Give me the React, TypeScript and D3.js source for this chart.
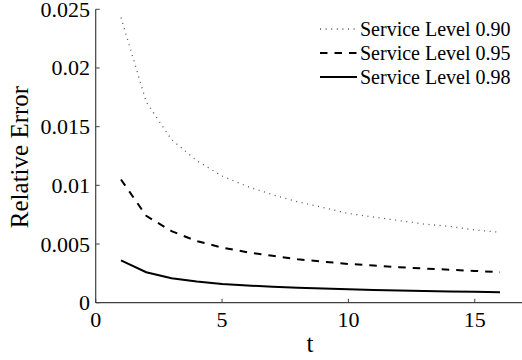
import React, { useEffect, useRef } from 'react';
import * as d3 from 'd3';

const tValues = [1, 2, 3, 4, 5, 6, 7, 8, 9, 10, 11, 12, 13, 14, 15, 16];
const level90 = [0.0243, 0.0171, 0.0139, 0.0121, 0.0108, 0.0099, 0.0092, 0.0086, 0.0081, 0.0076, 0.0073, 0.0070, 0.0067, 0.0065, 0.0062, 0.0060];
const level95 = [0.0105, 0.0074, 0.0061, 0.00525, 0.0047, 0.0043, 0.0040, 0.0037, 0.0035, 0.0033, 0.00317, 0.00303, 0.00291, 0.00281, 0.00271, 0.0026];
const level98 = [0.0036, 0.0026, 0.00208, 0.0018, 0.0016, 0.00147, 0.00136, 0.00127, 0.0012, 0.00114, 0.00108, 0.00104, 0.001, 0.00096, 0.00093, 0.0009];
const seriesNames = ['Service Level 0.90', 'Service Level 0.95', 'Service Level 0.98'];
const xTicks = [0, 5, 10, 15];
const yTicks = [0, 0.005, 0.01, 0.015, 0.02, 0.025];
const yTickLabels = ['0', '0.005', '0.01', '0.015', '0.02', '0.025'];

const font = '"Liberation Serif", "Times New Roman", serif';

const App = () => {
  const svgRef = useRef<SVGSVGElement>(null);

  useEffect(() => {
    const width = 522;
    const height = 360;
    const left = 95.7;
    const bottom = 302.7;
    const top = 9.3;

    const svg = d3.select(svgRef.current);
    svg.selectAll('*').remove();
    svg.attr('width', width).attr('height', height);

    const x = d3.scaleLinear().domain([0, 17]).range([left, left + 17 * 25.27]);
    const y = d3.scaleLinear().domain([0, 0.025]).range([bottom, top]);

    // axes: only left and bottom, ticks pointing inward
    const axisColor = '#404040';
    svg.append('line')
      .attr('x1', left).attr('x2', width)
      .attr('y1', bottom).attr('y2', bottom)
      .attr('stroke', axisColor).attr('stroke-width', 1.2);
    svg.append('line')
      .attr('x1', left).attr('x2', left)
      .attr('y1', bottom).attr('y2', top)
      .attr('stroke', axisColor).attr('stroke-width', 1.2);

    svg.selectAll('.xtick')
      .data(xTicks)
      .enter()
      .append('line')
      .attr('x1', d => x(d)).attr('x2', d => x(d))
      .attr('y1', bottom).attr('y2', bottom - 4)
      .attr('stroke', axisColor);
    svg.selectAll('.xlabel')
      .data(xTicks)
      .enter()
      .append('text')
      .attr('x', d => x(d))
      .attr('y', 327)
      .attr('text-anchor', 'middle')
      .attr('font-family', font)
      .attr('font-size', 22)
      .text(d => d);

    svg.selectAll('.ytick')
      .data(yTicks)
      .enter()
      .append('line')
      .attr('x1', left).attr('x2', left + 4)
      .attr('y1', d => y(d)).attr('y2', d => y(d))
      .attr('stroke', axisColor);
    svg.selectAll('.ylabel')
      .data(yTicks)
      .enter()
      .append('text')
      .attr('x', 90)
      .attr('y', d => y(d) + 7.5)
      .attr('text-anchor', 'end')
      .attr('font-family', font)
      .attr('font-size', 22)
      .text((d, i) => yTickLabels[i]);

    // axis titles
    svg.append('text')
      .attr('x', 310)
      .attr('y', 352)
      .attr('text-anchor', 'middle')
      .attr('font-family', font)
      .attr('font-size', 25)
      .text('t');
    svg.append('text')
      .attr('transform', 'translate(28,157) rotate(-90)')
      .attr('text-anchor', 'middle')
      .attr('font-family', font)
      .attr('font-size', 25)
      .text('Relative Error');

    const styles = [
      { values: level90, dash: '1,4.6', width: 1.3, color: '#555' },
      { values: level95, dash: '7.5,7', width: 2, color: '#000' },
      { values: level98, dash: null, width: 2, color: '#000' },
    ];

    const line = d3.line<number>()
      .x((d, i) => x(tValues[i]))
      .y(d => y(d));

    styles.forEach((s) => {
      svg.append('path')
        .datum(s.values)
        .attr('d', line)
        .attr('fill', 'none')
        .attr('stroke', s.color)
        .attr('stroke-width', s.width)
        .attr('stroke-dasharray', s.dash);
    });

    // legend
    const legend = svg.append('g');
    seriesNames.forEach((name, i) => {
      const ly = 29 + i * 24;
      legend.append('line')
        .attr('x1', 320).attr('x2', 357)
        .attr('y1', ly).attr('y2', ly)
        .attr('fill', 'none')
        .attr('stroke', styles[i].color)
        .attr('stroke-width', styles[i].width)
        .attr('stroke-dasharray', styles[i].dash);
      legend.append('text')
        .attr('x', 360)
        .attr('y', ly + 6.5)
        .attr('font-family', font)
        .attr('font-size', 20)
        .text(name);
    });
  }, []);

  return (
    <svg ref={svgRef} style={{ position: 'absolute', left: 0, top: 0, background: '#fff' }} />
  );
};

export default App;
